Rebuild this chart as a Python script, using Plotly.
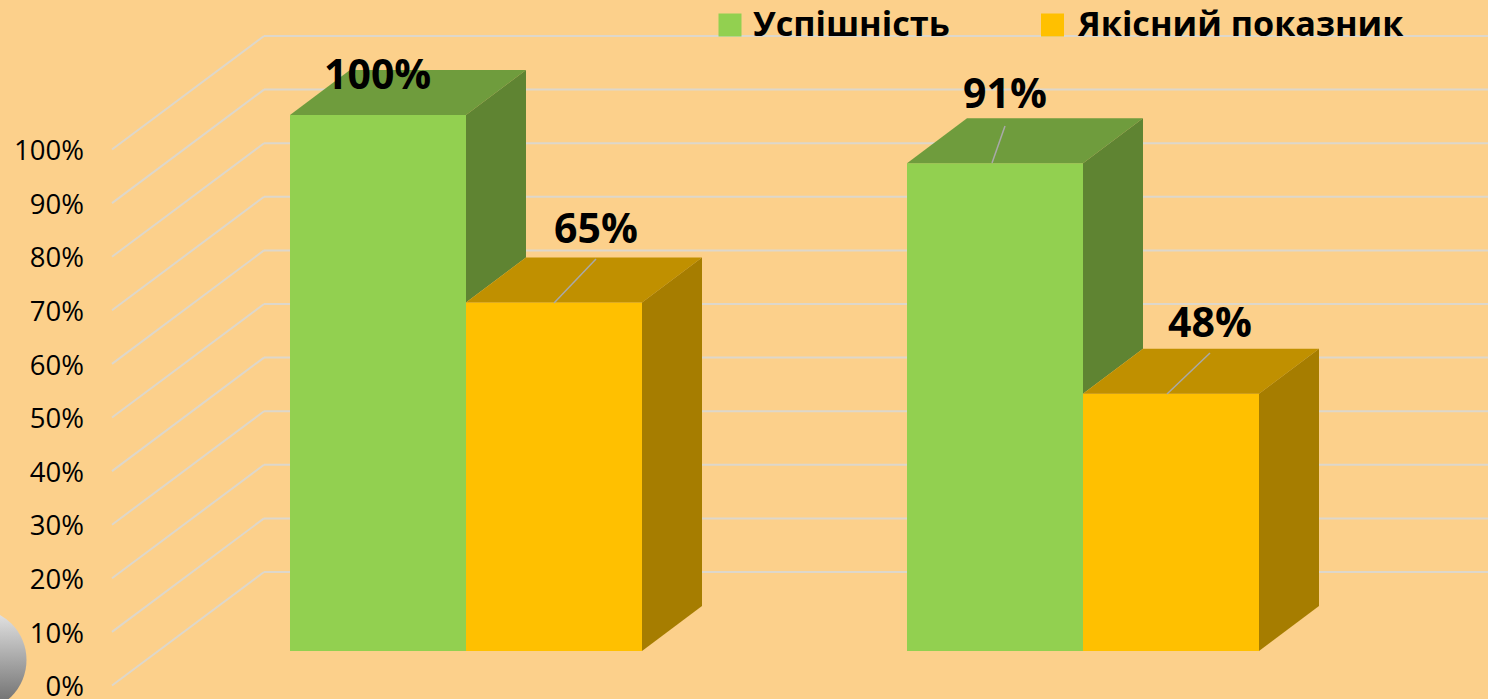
import plotly.graph_objects as go

# --- data ---
groups = [0, 1]
series_names = ["Успішність", "Якісний показник"]
success = [100, 91]
quality = [65, 48]
tick_values = [0, 10, 20, 30, 40, 50, 60, 70, 80, 90, 100]
tick_labels = ["0%", "10%", "20%", "30%", "40%", "50%", "60%", "70%", "80%", "90%", "100%"]

# --- style / layout constants ---
W, H = 1488, 699
BOTTOM_ROOM = 25  # room below the page fold so the 0% tick label is not squeezed
BG = "#FCD08B"
GRID = "#DDD7CB"
LEADER = "#A9A9A9"
FRONT = ["#92D050", "#FFC000"]
TOP = ["#6F9C3D", "#C09000"]
SIDE = ["#5F8432", "#A67D00"]
FONT = "Open Sans, Noto Sans, sans-serif"
PX_PER_UNIT = 5.36
BASE_PX = 651
GROUP0_PX, GROUP_STEP_PX = 466, 617
BAR_W_PX = 176


def X(px):
    return (px - GROUP0_PX) / GROUP_STEP_PX


def Y(px):
    return (BASE_PX - px) / PX_PER_UNIT


BAR_W = BAR_W_PX / GROUP_STEP_PX
DEPTH_X, DEPTH_Y = 60 / GROUP_STEP_PX, 45 / PX_PER_UNIT

fig = go.Figure()

# front faces
for name, vals, col in zip(series_names, [success, quality], FRONT):
    fig.add_trace(go.Bar(x=groups, y=vals, name=name, marker=dict(color=col, line_width=0),
                         showlegend=False, hoverinfo="x+y"))


def poly(xs, ys, col):
    fig.add_trace(go.Scatter(x=xs + xs[:1], y=ys + ys[:1], mode="lines", fill="toself", fillcolor=col,
                             line=dict(width=0, color=col), showlegend=False, hoverinfo="skip"))


# top and side faces, back to front
for g, a, b in zip(groups, success, quality):
    # green block: the part of its side not hidden by the orange block
    l, m, r = g - BAR_W, g, g + BAR_W
    poly([l, m, m + DEPTH_X, l + DEPTH_X], [a, a, a + DEPTH_Y, a + DEPTH_Y], TOP[0])
    poly([m, m + DEPTH_X, m + DEPTH_X, m], [a, a + DEPTH_Y, b + DEPTH_Y, b], SIDE[0])
    # orange block
    poly([m, r, r + DEPTH_X, m + DEPTH_X], [b, b, b + DEPTH_Y, b + DEPTH_Y], TOP[1])
    poly([r, r + DEPTH_X, r + DEPTH_X, r], [b, b + DEPTH_Y, DEPTH_Y, 0], SIDE[1])

# leader lines
for (x0, y0, x1, y1) in [(554, 303, 596, 259), (992, 163, 1005, 126), (1167, 394, 1210, 353)]:
    fig.add_trace(go.Scatter(x=[X(x0), X(x1)], y=[Y(y0), Y(y1)], mode="lines",
                             line=dict(color=LEADER, width=1.5), showlegend=False, hoverinfo="skip"))

# decorative ball, bottom-left
fig.add_trace(go.Scatter(x=[X(-25)], y=[Y(660)], mode="markers", showlegend=False, hoverinfo="skip",
                         cliponaxis=True,
                         marker=dict(size=103, color="#E8E8E8", line_width=0,
                                     gradient=dict(type="vertical", color="#666666"))))

# legend swatches
for px, col in zip([730, 1052.5], FRONT):
    fig.add_trace(go.Scatter(x=[X(px)], y=[Y(25)], mode="markers", showlegend=False, hoverinfo="skip",
                             marker=dict(symbol="square", size=23, color=col, line_width=0)))

# gridlines of the 3D wall (below all the marks)
wall_front_px, wall_back_px, wall_dy_px = 112, 264, 113.5
front_zero_px = 685.5
label_zero_px = 686.5
shapes = []
for v in tick_values:
    yf = Y(front_zero_px) + v
    yb = yf + wall_dy_px / PX_PER_UNIT
    for x0, y0, x1, y1 in [(X(wall_front_px), yf, X(wall_back_px), yb), (X(wall_back_px), yb, X(W), yb)]:
        shapes.append(dict(type="line", xref="x", yref="y", x0=x0, y0=y0, x1=x1, y1=y1,
                           layer="below", line=dict(color=GRID, width=2)))

annotations = []
# value labels
for text, px, py in zip([f"{success[0]}%", f"{quality[0]}%", f"{success[1]}%", f"{quality[1]}%"],
                        [377, 596, 1005, 1210], [73, 227, 92, 321]):
    annotations.append(dict(text=f"<b>{text}</b>", x=X(px), y=Y(py), xref="x", yref="y", showarrow=False,
                            xanchor="center", yanchor="middle", font=dict(family=FONT, size=41, color="black")))
# legend labels
for text, px in zip(series_names, [751, 1075]):
    annotations.append(dict(text=f"<b>{text}</b>", x=X(px), y=Y(22.5), xref="x", yref="y", showarrow=False,
                            xanchor="left", yanchor="middle", font=dict(family=FONT, size=34.2, color="black")))

fig.update_layout(
    width=W, height=H + BOTTOM_ROOM, margin=dict(l=0, r=0, t=0, b=BOTTOM_ROOM),
    paper_bgcolor=BG, plot_bgcolor=BG,
    barmode="group", bargap=1 - 2 * BAR_W, bargroupgap=0,
    showlegend=False, shapes=shapes, annotations=annotations,
    xaxis=dict(range=[X(0), X(W)], visible=False, fixedrange=True),
    yaxis=dict(range=[Y(H), Y(0)], visible=False, fixedrange=True),
    yaxis2=dict(overlaying="y", anchor="free", position=84 / W, side="left", fixedrange=True,
                range=[(label_zero_px - H) / PX_PER_UNIT, label_zero_px / PX_PER_UNIT],
                tickmode="array", tickvals=tick_values, ticktext=tick_labels,
                showgrid=False, zeroline=False, showline=False, ticks="", ticklabeloverflow="allow",
                tickfont=dict(family=FONT, size=27.5, color="black")),
)
# keeps the tick axis attached to a trace so it is drawn
fig.add_trace(go.Scatter(x=[None], y=[None], yaxis="y2", showlegend=False, hoverinfo="skip"))

fig.write_html("out.html", post_script="document.body.style.margin='0';document.body.style.overflow='hidden';",
               config={"displayModeBar": False})
